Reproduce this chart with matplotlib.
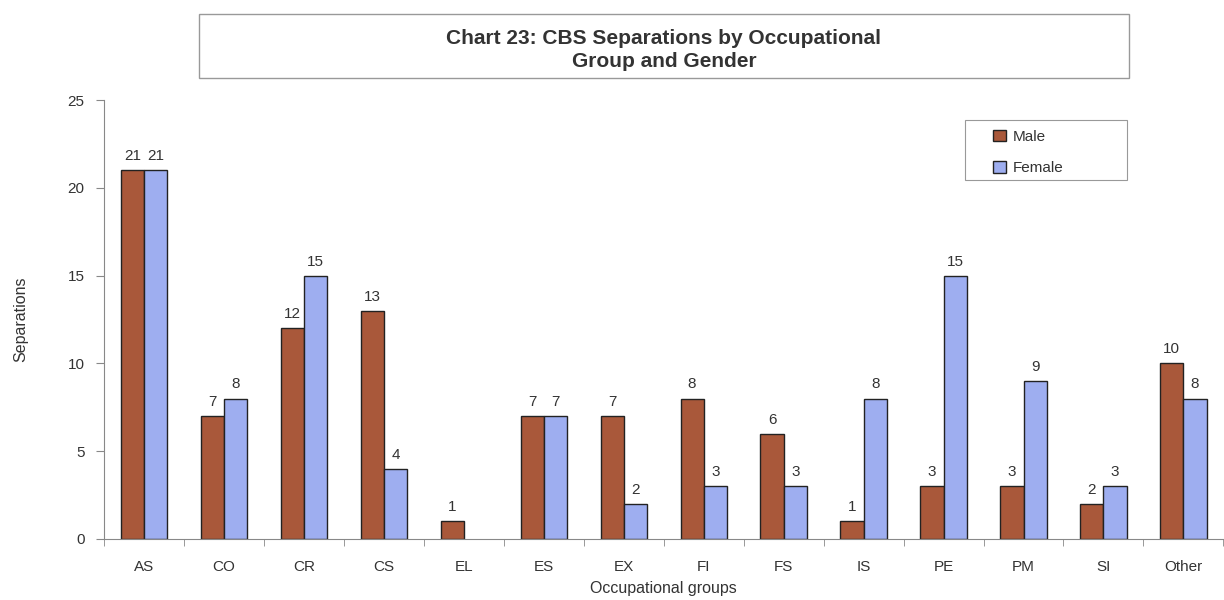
import numpy as np
import matplotlib.pyplot as plt
from matplotlib.patches import Rectangle

groups = ['AS', 'CO', 'CR', 'CS', 'EL', 'ES', 'EX', 'FI', 'FS', 'IS', 'PE', 'PM', 'SI', 'Other']
male = [21, 7, 12, 13, 1, 7, 7, 8, 6, 1, 3, 3, 2, 10]
female = [21, 8, 15, 4, 0, 7, 2, 3, 3, 8, 15, 9, 3, 8]

plt.rcParams['font.family'] = ['Liberation Sans', 'DejaVu Sans']

fig = plt.figure(figsize=(12.24, 6), dpi=100)
ax = fig.add_axes([0.085, 0.1017, 0.9145, 0.7316])

x = np.arange(len(groups))
w = 0.29
b1 = ax.bar(x - w / 2, male, w, color='#A9583A', edgecolor='#222222', linewidth=1, label='Male')
b2 = ax.bar(x + w / 2, female, w, color='#9EAEF0', edgecolor='#222222', linewidth=1, label='Female')

for bars in (b1, b2):
    for r in bars:
        h = r.get_height()
        if h > 0:
            ax.text(r.get_x() + r.get_width() / 2, h + 0.4, '%d' % h, ha='center', va='bottom',
                    fontsize=11, color='#333333')
        else:
            r.set_linewidth(0)

ax.set_xlim(-0.5, len(groups) - 0.5)
ax.set_ylim(0, 25)
ax.set_yticks([0, 5, 10, 15, 20, 25])
ax.set_xticks(x)
ax.set_xticklabels(groups)
ax.set_xticks(np.arange(-0.5, len(groups), 1), minor=True)
ax.tick_params(axis='x', which='major', length=0, pad=15, labelsize=11, labelcolor='#333333')
ax.tick_params(axis='x', which='minor', length=5, color='#888888')
ax.tick_params(axis='y', length=6, color='#888888', pad=8, labelsize=11, labelcolor='#333333')

for s in ['top', 'right']:
    ax.spines[s].set_visible(False)
for s in ['left', 'bottom']:
    ax.spines[s].set_color('#888888')

ax.set_ylabel('Separations', fontsize=11.5, color='#333333', labelpad=28)
ax.set_xlabel('Occupational groups', fontsize=11.5, color='#333333', labelpad=5)

# legend frame drawn separately (wider than the entries)
fig.patches.append(Rectangle((965 / 1224, 1 - 180 / 600), 162 / 1224, 60 / 600,
                             transform=fig.transFigure, fill=False, edgecolor='#999999',
                             linewidth=0.8))
leg = fig.legend(handles=[b1, b2], loc='upper left', bbox_to_anchor=(988 / 1224, 1 - 125 / 600),
                 fontsize=11, frameon=False, handlelength=0.85, handleheight=0.8,
                 borderpad=0.3, labelspacing=1.15, handletextpad=0.45, borderaxespad=0)
for t in leg.get_texts():
    t.set_color('#333333')

fig.patches.append(Rectangle((199 / 1224, 1 - 78 / 600), 930 / 1224, 64 / 600,
                             transform=fig.transFigure, fill=False, edgecolor='#999999',
                             linewidth=1))
fig.text(664 / 1224, 1 - 50 / 600, 'Chart 23: CBS Separations by Occupational\nGroup and Gender',
         ha='center', va='center', fontsize=15, fontweight='bold', color='#333333', linespacing=1.3)

fig.savefig('out.png', dpi=100)
